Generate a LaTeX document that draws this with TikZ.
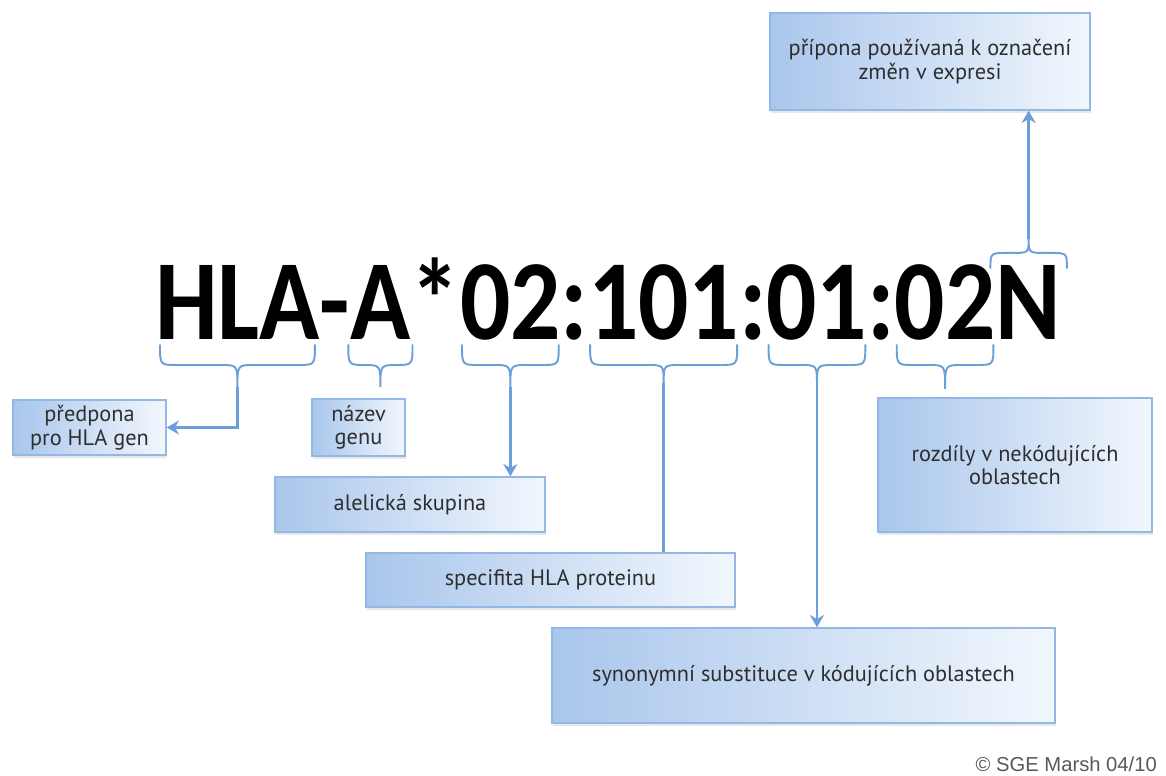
\documentclass[tikz,border=0pt]{standalone}
\usepackage{fontspec}
\setmainfont{PT Sans}
\newfontfamily\codefont[FakeStretch=0.87]{Carlito}
\newfontfamily\notefont{Liberation Sans}
\usetikzlibrary{arrows.meta,positioning,calc,shadows}

\definecolor{lineblue}{HTML}{6A9FDA}
\definecolor{boxdark}{HTML}{A9C6EC}
\definecolor{boxlight}{HTML}{F2F7FD}
\definecolor{boxedge}{HTML}{94B8E4}
\definecolor{textgray}{HTML}{2E2E2E}

% curly brace under (or over) one part of the allele name
% #1,#2 ends, #3 bar offset, #4 tip offset (signed), #5 name of the tip
\newcommand{\segbrace}[5]{%
  \draw[brace] let \p1=(#1), \p2=(#2) in
    (\p1) .. controls (\x1,\y1#3) .. (\x1+0.34cm,\y1#3)
    -- (\x1/2+\x2/2-0.34cm,\y1#3) .. controls (\x1/2+\x2/2,\y1#3) .. (\x1/2+\x2/2,\y1#4)
    coordinate (#5)
    .. controls (\x1/2+\x2/2,\y1#3) .. (\x1/2+\x2/2+0.34cm,\y1#3)
    -- (\x2-0.34cm,\y1#3) .. controls (\x2,\y1#3) .. (\p2);
}

\begin{document}
\begin{tikzpicture}[
  x=0.02cm, y=-0.02cm,
  >=Stealth,
  every node/.style={font=\fontsize{12.7}{13.4}\selectfont, text=textgray},
  infobox/.style={rectangle, draw=boxedge, line width=0.8pt,
    left color=boxdark, right color=boxlight, align=center, inner sep=2pt,
    drop shadow={opacity=0.18, shadow xshift=0.6pt, shadow yshift=-1.6pt}},
  codepart/.style={font=\codefont\bfseries\fontsize{65}{65}\selectfont,
    text=black, inner sep=0pt, outer sep=0pt},
  brace/.style={draw=lineblue, line width=1.1pt, line cap=round},
  link/.style={draw=lineblue, line width=1.5pt, -{Stealth[length=7pt,width=8pt]}},
  plainlink/.style={draw=lineblue, line width=1.5pt},
]
\useasboundingbox[fill=white] (0,0) rectangle (1166,776);

% Allele name
\node[codepart, anchor=base west] at (155,340) (hla) {HLA};
\node[codepart, base right=0pt of hla] (dash) {-};
\node[codepart, base right=0pt of dash] (gene) {A};
\node[codepart, base right=0pt of gene] (star) {*};
\node[codepart, base right=0pt of star] (grp) {02};
\node[codepart, base right=0pt of grp] (col1) {:};
\node[codepart, base right=0pt of col1] (prot) {101};
\node[codepart, base right=0pt of prot] (col2) {:};
\node[codepart, base right=0pt of col2] (syn) {01};
\node[codepart, base right=0pt of syn] (col3) {:};
\node[codepart, base right=0pt of col3] (nonc) {02};
\node[codepart, base right=0pt of nonc] (suff) {N};

% Explanation boxes
\node[infobox, minimum width=3.06cm, minimum height=1.1cm] at (89.5,427.5) (pre) {předpona\\pro HLA gen};
\node[infobox, minimum width=1.86cm, minimum height=1.14cm] at (358.5,427.5) (gen) {název\\genu};
\node[infobox, minimum width=5.4cm, minimum height=1.1cm] at (410,504.5) (ale) {alelická skupina};
\node[infobox, minimum width=7.38cm, minimum height=1.08cm] at (550.5,580) (spe) {specifita HLA proteinu};
\node[infobox, minimum width=10.06cm, minimum height=1.9cm] at (803.5,675.5) (subst) {synonymní substituce v kódujících oblastech};
\node[infobox, minimum width=5.48cm, minimum height=2.68cm] at (1015,465) (roz) {rozdíly v nekódujících\\oblastech};
\node[infobox, minimum width=6.4cm, minimum height=1.94cm] at (930,61.5) (suf) {přípona používaná k označení\\změn v expresi};

% Braces
\segbrace{[shift={(5,5)}]hla.base west}{[shift={(-5,5)}]hla.base east}{-0.4cm}{-0.84cm}{hlaTip}
\segbrace{[shift={(-2,5)}]gene.base west}{[shift={(2,5)}]gene.base east}{-0.4cm}{-0.84cm}{geneTip}
\segbrace{[shift={(2,5)}]grp.base west}{[shift={(-2,5)}]grp.base east}{-0.4cm}{-0.84cm}{grpTip}
\segbrace{[shift={(2,5)}]prot.base west}{[shift={(-2,5)}]prot.base east}{-0.4cm}{-0.76cm}{protTip}
\segbrace{[shift={(2,5)}]syn.base west}{[shift={(-2,5)}]syn.base east}{-0.4cm}{-0.8cm}{synTip}
\segbrace{[shift={(2,5)}]nonc.base west}{[shift={(-2,5)}]nonc.base east}{-0.4cm}{-0.88cm}{noncTip}
\segbrace{[shift={(-5,2)}]suff.north west}{[shift={(6,2)}]suff.north east}{+0.3cm}{+0.58cm}{suffTip}

% Connectors
\draw[link] (hlaTip) |- (pre.east);
\draw[link] (grpTip) -- (grpTip |- ale.north);
\draw[plainlink] (protTip) -- (protTip |- spe.north);
\draw[link] (synTip) -- (synTip |- subst.north);
\draw[link] (suffTip) -- (suffTip |- suf.south);

% Credit
\node[font=\notefont\fontsize{11.5}{11.5}\selectfont, text=black!65, anchor=east] at (1163,764) (credit) {© SGE Marsh 04/10};
\end{tikzpicture}
\end{document}
